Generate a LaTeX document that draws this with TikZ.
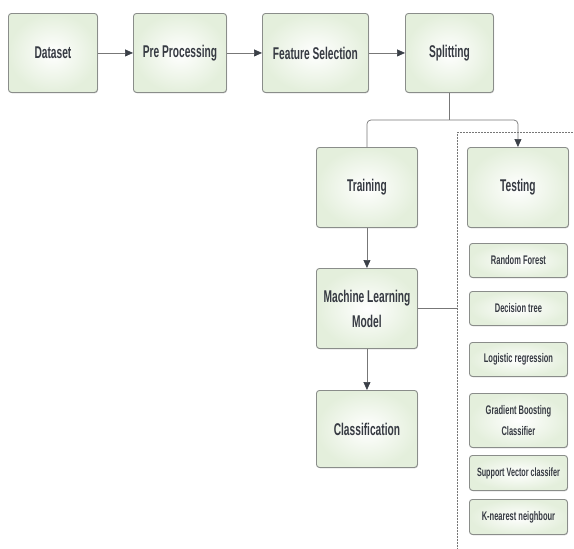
\documentclass[tikz,border=0pt]{standalone}
\usepackage{fontspec}
\setmainfont{Liberation Sans}[FakeStretch=0.6]
\usetikzlibrary{arrows.meta,shadows}
\definecolor{boxline}{HTML}{8A8D8A}
\definecolor{boxfill}{HTML}{E4EFDC}
\definecolor{txt}{HTML}{363A42}
\definecolor{conn}{HTML}{777777}
\definecolor{tip}{HTML}{3A3F47}
\tikzset{
  box/.style={draw=boxline, line width=0.9pt, rounded corners=3pt, inner color=white, outer color=boxfill,
    drop shadow={shadow xshift=0.6pt, shadow yshift=-0.8pt, fill=black!35, opacity=0.5},
    text=txt, font=\fontsize{17}{25}\selectfont\bfseries, align=center, anchor=north west, inner sep=2pt},
  small/.style={box, font=\fontsize{12.5}{21}\selectfont\bfseries},
  conn/.style={draw=conn, line width=0.7pt},
  arr/.style={conn, -{Triangle[length=8pt,width=7pt,color=tip]}},
}
\begin{document}
\begin{tikzpicture}[x=1pt,y=-1pt]
\useasboundingbox (0,0) rectangle (574,549);
% top row
\node[box, minimum width=89pt, minimum height=79pt] (ds) at (8,13) {Dataset};
\node[box, minimum width=93pt, minimum height=79pt] (pp) at (133,13) {Pre Processing};
\node[box, minimum width=106pt, minimum height=79pt] (fs) at (262,13) {Feature Selection};
\node[box, minimum width=88pt, minimum height=79pt] (sp) at (405,13) {Splitting};
% middle column
\node[box, minimum width=101pt, minimum height=80pt] (tr) at (316,147) {Training};
\node[box, minimum width=101pt, minimum height=80pt] (te) at (467,147) {Testing};
\node[box, minimum width=101pt, minimum height=80pt] (ml) at (316,268) {Machine Learning\\Model};
\node[box, minimum width=101pt, minimum height=77pt] (cl) at (316,390) {Classification};
% dashed region
\draw[conn, line width=0.5pt, densely dotted] (574,132) -- (457,132) coordinate (dtop) -- (457,549);
\coordinate (dml) at (457,308);
% algorithm boxes
\node[small, minimum width=98pt, minimum height=34pt] (rf) at (469,243) {Random Forest};
\node[small, minimum width=98pt, minimum height=34pt] (dt) at (469,291) {Decision tree};
\node[small, minimum width=98pt, minimum height=34pt] (lr) at (469,342) {Logistic regression};
\node[small, minimum width=98pt, minimum height=54pt] (gb) at (469,393) {Gradient Boosting\\Classifier};
\node[small, minimum width=98pt, minimum height=35pt, font=\fontsize{12}{14}\selectfont\bfseries] (sv) at (469,455) {Support Vector classifer};
\node[small, minimum width=98pt, minimum height=35pt] (kn) at (469,499) {K-nearest neighbour};
% connectors
\draw[arr] (ds.east) -- (pp.west);
\draw[arr] (pp.east) -- (fs.west);
\draw[arr] (fs.east) -- (sp.west);
\coordinate (sj) at (sp.south |- 0,120);
\draw[conn] (sp.south) -- (sj);
\draw[conn, rounded corners=4pt] (sj) -- (tr.north |- sj) -- (tr.north);
\draw[arr, rounded corners=4pt] (sj) -- (te.north |- sj) -- (te.north);
\draw[arr] (tr.south) -- (ml.north);
\draw[arr] (ml.south) -- (cl.north);
\draw[conn] (ml.east |- dml) -- (dml);
\end{tikzpicture}
\end{document}
